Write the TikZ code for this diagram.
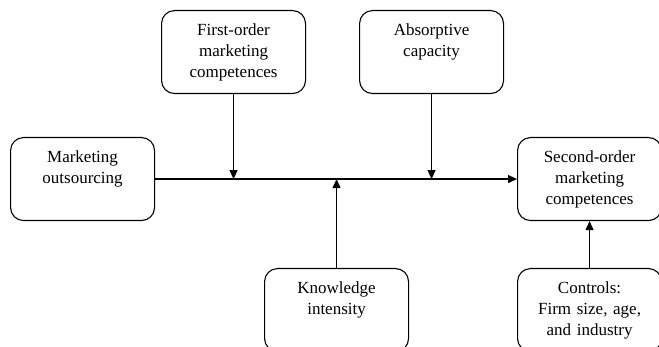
\documentclass[tikz,border=0pt]{standalone}
\usepackage{fontspec}
\setmainfont{Liberation Serif}
\usepackage{tikz}
\usetikzlibrary{arrows.meta,positioning}

\tikzset{
  construct/.style={draw, line width=1.1pt, rounded corners=13pt, inner sep=0pt,
    text width=144pt, align=center, text height=25pt, text depth=58pt},
  link/.style={line width=1.1pt, -{Triangle[length=9pt,width=8pt]}}
}

\begin{document}
\begin{tikzpicture}[x=1pt, y=-1pt, font=\fontsize{17}{21}\selectfont]
  \useasboundingbox (0,0) rectangle (659,347);
  \clip (0,0) rectangle (659,347);
  % moderators on top
  \node[construct, anchor=north west] (first) at (161,10) {First-order\\ marketing\\ competences};
  \node[construct, anchor=north west] (absorb) at (359,10) {Absorptive\\ capacity};
  % main path
  \node[construct, anchor=north west] (outsrc) at (10,137) {Marketing\\ outsourcing};
  \node[construct, anchor=north west] (second) at (517,137) {Second-order\\ marketing\\ competences};
  % bottom row
  \node[construct, anchor=north west] (know) at (264,268) {Knowledge\\ intensity};
  \node[construct, anchor=north west] (ctrl) at (517,268) {Controls:\\ Firm size, age,\\ and industry};

  \coordinate (m1) at (first.south |- outsrc.east);
  \coordinate (m2) at (absorb.south |- outsrc.east);
  \coordinate (m3) at (know.north |- outsrc.east);

  \draw[link] (outsrc.east) -- (second.west);
  \draw[link] (first.south) -- (m1);
  \draw[link] (absorb.south) -- (m2);
  \draw[link] (know.north) -- (m3);
  \draw[link] (ctrl.north) -- (second.south);
\end{tikzpicture}
\end{document}
